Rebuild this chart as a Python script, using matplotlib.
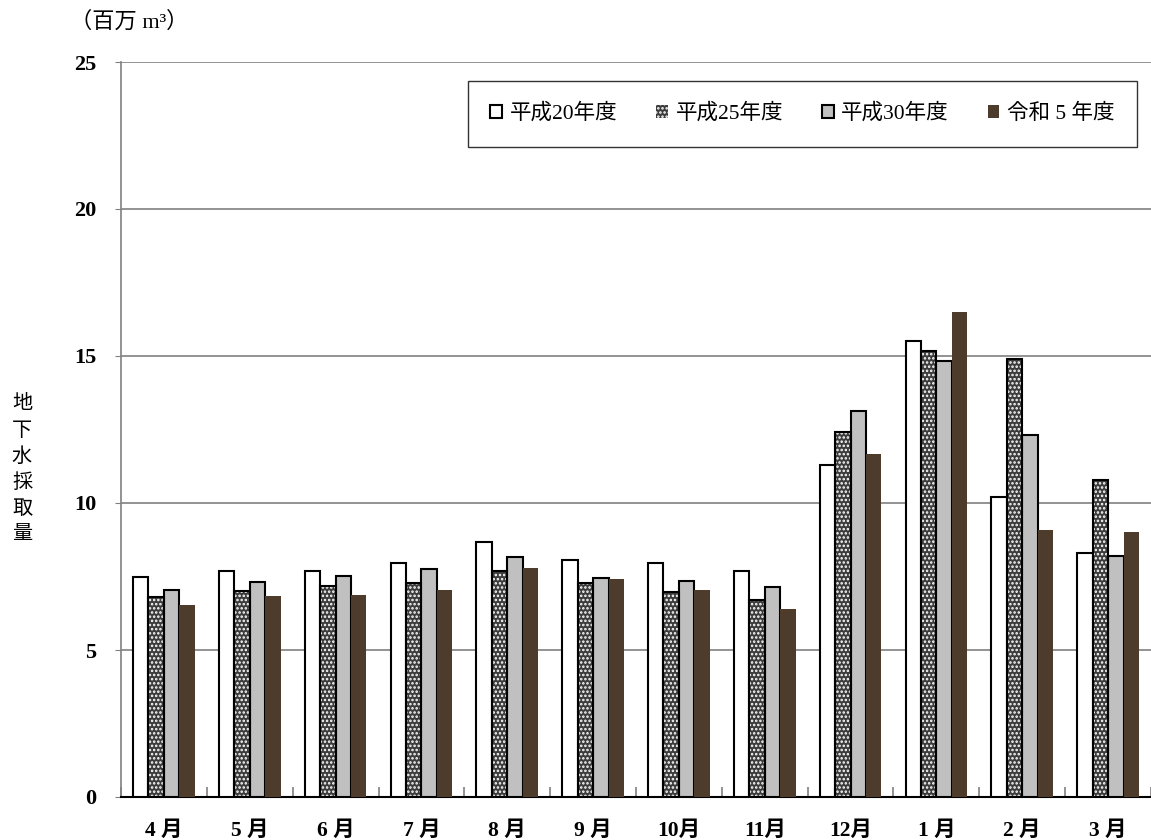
import numpy as np
import matplotlib.pyplot as plt
from matplotlib.patches import Patch

plt.rcParams['font.family'] = ['Liberation Serif', 'Noto Sans CJK JP']
plt.rcParams['hatch.color'] = 'white'
plt.rcParams['hatch.linewidth'] = 1.2

months = ['4 月', '5 月', '6 月', '7 月', '8 月', '9 月', '10月', '11月', '12月', '1 月', '2 月', '3 月']
series = ['平成20年度', '平成25年度', '平成30年度', '令和 5 年度']
h20 = [7.48, 7.69, 7.69, 7.96, 8.67, 8.06, 7.96, 7.69, 11.29, 15.51, 10.2, 8.30]
h25 = [6.80, 7.00, 7.18, 7.28, 7.69, 7.28, 6.97, 6.70, 12.41, 15.17, 14.9, 10.78]
h30 = [7.04, 7.31, 7.52, 7.76, 8.16, 7.45, 7.35, 7.14, 13.13, 14.83, 12.31, 8.20]
r5 = [6.53, 6.84, 6.87, 7.04, 7.79, 7.41, 7.04, 6.39, 11.67, 16.50, 9.08, 9.01]

fig = plt.figure(figsize=(11.51, 8.40), dpi=100)
ax = fig.add_axes([121 / 1151, 1 - 797 / 840, 1030 / 1151, 735 / 840])

x = np.arange(len(months))
w = 0.18

ax.bar(x - 1.5 * w, h20, w, facecolor='white', edgecolor='black', linewidth=1.5, zorder=3)
# dotted bars: white hatch on dark fill, then a black outline on top
ax.bar(x - 0.5 * w, h25, w, facecolor='#3c3c3c', hatch='....', linewidth=0, zorder=3)
ax.bar(x - 0.5 * w, h25, w, fill=False, edgecolor='black', linewidth=1.5, zorder=4)
ax.bar(x + 0.5 * w, h30, w, facecolor='#c0c0c0', edgecolor='black', linewidth=1.5, zorder=3)
ax.bar(x + 1.5 * w, r5, w, facecolor='#4d3b2c', edgecolor='none', zorder=3)

ax.set_xlim(-0.5, 11.5)
ax.set_ylim(0, 25)
ax.set_yticks([0, 5, 10, 15, 20, 25])
ax.yaxis.grid(True, color='#808080', linewidth=1.2, zorder=0)
ax.set_axisbelow(True)

for s in ['top', 'right']:
    ax.spines[s].set_visible(False)
ax.spines['left'].set_color('#808080')
ax.spines['left'].set_linewidth(1.2)
ax.spines['bottom'].set_color('black')
ax.spines['bottom'].set_linewidth(1.5)

ax.set_xticks(x)
ax.set_xticklabels(months, fontsize=15.5, fontweight='bold')
ax.set_xticks(np.arange(-0.5, 12, 1), minor=True)
ax.tick_params(axis='x', which='major', length=0, pad=17)
ax.tick_params(axis='x', which='minor', direction='in', length=7, width=1.2, color='#808080')
ax.tick_params(axis='y', direction='out', length=4, color='#808080', labelsize=16, pad=14)
for t in ax.get_yticklabels():
    t.set_fontweight('bold')

handles = [
    Patch(facecolor='white', edgecolor='black', linewidth=1.5),
    Patch(facecolor='#3c3c3c', hatch='....'),
    Patch(facecolor='#c0c0c0', edgecolor='black', linewidth=1.5),
    Patch(facecolor='#4d3b2c'),
]
leg = ax.legend(handles, series, loc='upper right', bbox_to_anchor=((1137 - 121) / 1030, (797 - 81) / 735),
                ncol=4, fontsize=15.5, frameon=True, fancybox=False, handlelength=0.55, handleheight=0.55,
                handletextpad=0.35, columnspacing=1.8, borderpad=1.05, borderaxespad=0)
leg.get_frame().set_edgecolor('black')
leg.get_frame().set_linewidth(1.0)

fig.text(70 / 1151, 1 - 22 / 840, '（百万 m³）', fontsize=16, ha='left', va='center')
fig.text(22 / 1151, 1 - 470 / 840, '地\n下\n水\n採\n取\n量', fontsize=14.5, ha='center', va='center',
         linespacing=1.5)

plt.savefig('out.png', dpi=100)
